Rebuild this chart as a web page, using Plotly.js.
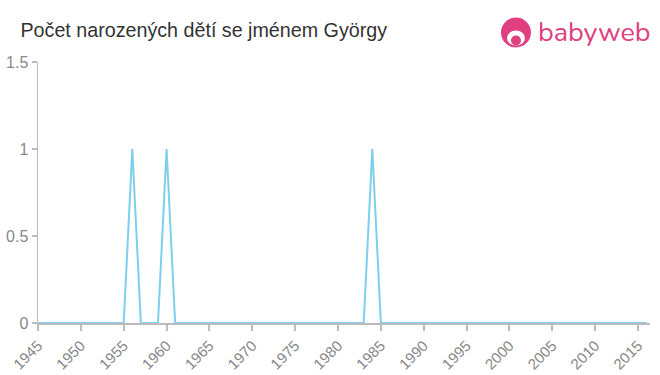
<!DOCTYPE html>
<html>
<head>
<meta charset="utf-8">
<script src="https://cdn.plot.ly/plotly-3.0.1.min.js"></script>
<style>html,body{margin:0;padding:0;background:#fff;}#chart{width:660px;height:375px;}</style>
</head>
<body>
<div id="chart"></div>
<script>
const years = [1945,1946,1947,1948,1949,1950,1951,1952,1953,1954,1955,1956,1957,1958,1959,1960,1961,1962,1963,1964,1965,1966,1967,1968,1969,1970,1971,1972,1973,1974,1975,1976,1977,1978,1979,1980,1981,1982,1983,1984,1985,1986,1987,1988,1989,1990,1991,1992,1993,1994,1995,1996,1997,1998,1999,2000,2001,2002,2003,2004,2005,2006,2007,2008,2009,2010,2011,2012,2013,2014,2015,2016];
const births = [0,0,0,0,0,0,0,0,0,0,0,1,0,0,0,1,0,0,0,0,0,0,0,0,0,0,0,0,0,0,0,0,0,0,0,0,0,0,0,1,0,0,0,0,0,0,0,0,0,0,0,0,0,0,0,0,0,0,0,0,0,0,0,0,0,0,0,0,0,0,0,0];
const xTicks = [1945,1950,1955,1960,1965,1970,1975,1980,1985,1990,1995,2000,2005,2010,2015];
const yTicks = [0,0.5,1,1.5];
const yTickLabels = ["0","0.5","1","1.5"];
const titleText = "Počet narozených dětí se jménem György";

const FONT = 'Liberation Sans, Arial, Helvetica, sans-serif';
const trace = {
  x: years, y: births, type: 'scatter', mode: 'lines',
  line: {color: '#7dcfeb', width: 2},
  hoverinfo: 'skip'
};
const logoY = 1.113, logoX = 0.781;
const layout = {
  width: 660, height: 375,
  margin: {l: 38, r: 10, t: 62, b: 52},
  paper_bgcolor: '#fff', plot_bgcolor: '#fff',
  showlegend: false,
  title: {text: titleText, x: 0.031, xanchor: 'left', y: 0.92, yanchor: 'middle',
          font: {family: FONT, size: 19.7, color: '#333'}},
  xaxis: {
    range: [1945, 2016.4], tickvals: xTicks, ticktext: xTicks.map(String),
    tickangle: -45, showgrid: false, zeroline: false,
    showline: true, linecolor: '#bbb', linewidth: 2,
    ticks: 'outside', ticklen: 6, tickcolor: '#bbb', tickwidth: 2,
    tickfont: {family: FONT, size: 15, color: '#888'}
  },
  yaxis: {
    range: [0, 1.5], tickvals: yTicks, ticktext: yTickLabels,
    showgrid: false, zeroline: false,
    showline: true, linecolor: '#bbb', linewidth: 1.5,
    ticks: 'outside', ticklen: 5, tickcolor: '#bbb', tickwidth: 1.5,
    tickfont: {family: FONT, size: 16, color: '#888'}
  },
  shapes: [
    {type: 'circle', xref: 'paper', yref: 'paper', xsizemode: 'pixel', ysizemode: 'pixel',
     xanchor: logoX, yanchor: logoY, x0: -15, x1: 15, y0: -15, y1: 15,
     fillcolor: '#e0407f', line: {width: 0}},
    {type: 'circle', xref: 'paper', yref: 'paper', xsizemode: 'pixel', ysizemode: 'pixel',
     xanchor: logoX, yanchor: logoY, x0: -9, x1: 9, y0: -13, y1: 2,
     fillcolor: '#fff', line: {width: 0}},
    {type: 'circle', xref: 'paper', yref: 'paper', xsizemode: 'pixel', ysizemode: 'pixel',
     xanchor: logoX, yanchor: logoY, x0: -5, x1: 5, y0: -13, y1: -3,
     fillcolor: '#e0407f', line: {width: 0}}
  ],
  annotations: [
    {text: 'babyweb', xref: 'paper', yref: 'paper', x: 1.005, y: logoY, xanchor: 'right', yanchor: 'middle',
     showarrow: false, font: {family: 'Nunito, Lato, Open Sans, sans-serif', size: 27, color: '#e0407f'}}
  ]
};
Plotly.newPlot('chart', [trace], layout, {displayModeBar: false, staticPlot: true});
</script>
</body>
</html>
